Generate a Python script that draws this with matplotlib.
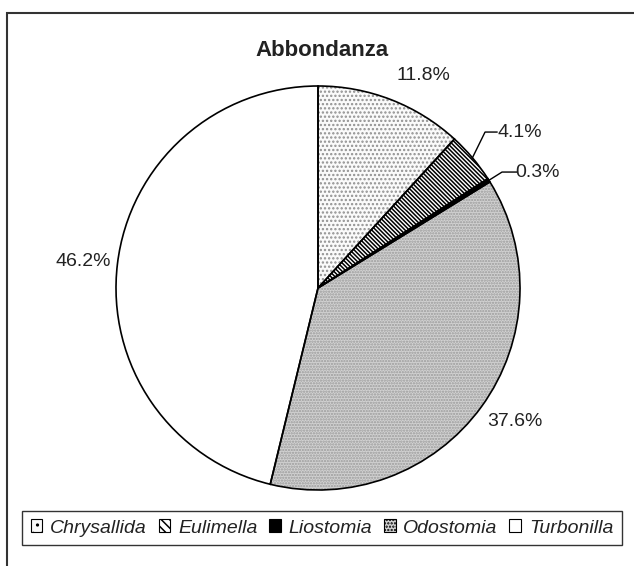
import numpy as np
import matplotlib
matplotlib.use("Agg")
import matplotlib.pyplot as plt
from matplotlib.patches import Rectangle, Patch

plt.rcParams['font.family'] = ['Liberation Sans', 'DejaVu Sans']
plt.rcParams['hatch.linewidth'] = 1.1

# abbondanza per genere (%)
generi = ['Chrysallida', 'Eulimella', 'Liostomia', 'Odostomia', 'Turbonilla']
valori = [11.8, 4.1, 0.3, 37.6, 46.2]
etichette = ['11.8%', '4.1%', '0.3%', '37.6%', '46.2%']

# riempimenti: colore di fondo, tratteggio, colore del tratteggio
fondi = ['#fafafa', 'white', 'black', '#d2d2d2', 'white']
tratteggi = ['....', '\\\\\\\\\\\\\\\\', None, '......', None]
col_tratteggio = ['#909090', 'black', 'black', '#9a9a9a', 'black']

fig = plt.figure(figsize=(6.34, 5.66), dpi=100)
ax = fig.add_axes([116 / 634, 76 / 566, 404 / 634, 404 / 566])

wedges, _ = ax.pie(valori, startangle=90, counterclock=False, radius=1,
                   wedgeprops=dict(linewidth=0))
for w, fc, h, hc in zip(wedges, fondi, tratteggi, col_tratteggio):
    w.set_facecolor(fc)
    w.set_edgecolor(hc)
    if h:
        w.set_hatch(h)

# contorni neri sopra i riempimenti
ax.pie(valori, startangle=90, counterclock=False, radius=1,
       wedgeprops=dict(fill=False, edgecolor='black', linewidth=1.2))
ax.set_xlim(-1, 1)
ax.set_ylim(-1, 1)
ax.set_aspect('equal')
ax.axis('off')

# posizione delle etichette (in unità di raggio, centro testo)
pos_testo = [(0.520, 1.054), (0.998, 0.772), (1.089, 0.574),
             (0.975, -0.663), (-1.163, 0.129)]
for lab, (tx, ty) in zip(etichette, pos_testo):
    ax.text(tx, ty, lab, ha='center', va='center', fontsize=14,
            color='#222222', zorder=5)

# linee guida per le fette piccole: gomito e fine
guide = [(0.827, 0.772, 0.886), (0.911, 0.574, 0.985)]
for w, (gx, gy, ex) in zip(wedges[1:3], guide):
    mid = np.deg2rad((w.theta1 + w.theta2) / 2)
    px, py = np.cos(mid), np.sin(mid)
    ax.plot([px, gx, ex], [py, gy, gy], color='black', lw=1.0,
            clip_on=False)

fig.text(322 / 634, 1 - 50 / 566, 'Abbondanza', ha='center', va='center',
         fontsize=16, fontweight='bold', color='#222222')

maniglie = [Patch(facecolor=fc, hatch=h, edgecolor='black', linewidth=0.8)
            for fc, h in zip(fondi, ['..', '\\\\\\\\', None, '.....', None])]
leg = fig.legend(maniglie, generi, loc='center', ncol=5,
                 bbox_to_anchor=(322 / 634, 1 - 528 / 566),
                 prop=dict(style='italic', size=14), frameon=True,
                 fancybox=False, handlelength=0.6, handleheight=0.6,
                 handletextpad=0.4, columnspacing=0.6, borderpad=0.45,
                 borderaxespad=0)
leg.get_frame().set_edgecolor('black')
leg.get_frame().set_linewidth(1.0)
for t in leg.get_texts():
    t.set_color('#222222')

# cornice esterna del grafico
fig.patches.append(Rectangle((7 / 634, -0.1), 1.2, 1 - 13 / 566 + 0.1,
                             transform=fig.transFigure, fill=False,
                             edgecolor='#333333', linewidth=1.5))

fig.savefig('out.png', dpi=100)
